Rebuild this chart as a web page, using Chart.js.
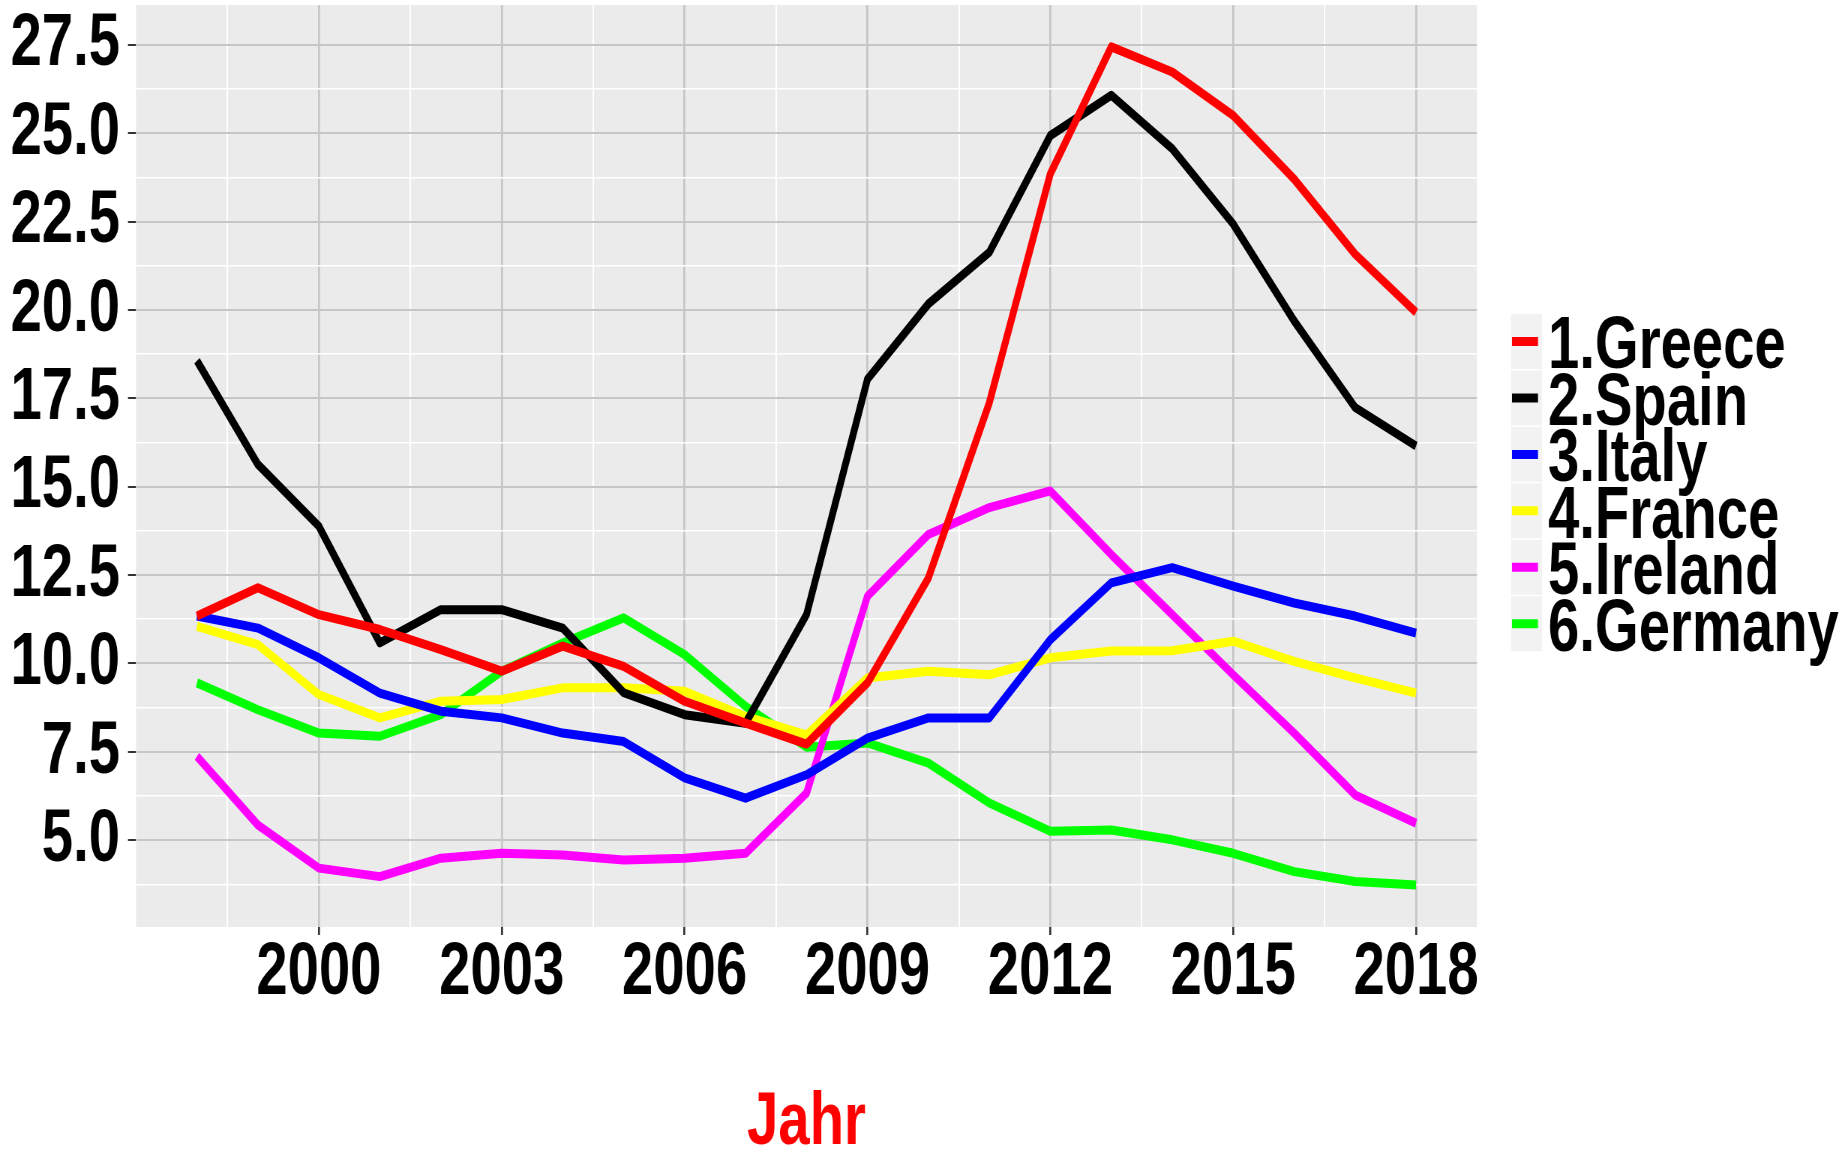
<!DOCTYPE html>
<html><head><meta charset="utf-8">
<script src="https://cdn.jsdelivr.net/npm/chart.js@4/dist/chart.umd.min.js"></script>
<style>
html,body{margin:0;padding:0;background:#fff;overflow:hidden;width:1847px;height:1155px;}
#wrap{position:absolute;left:0;top:0;transform-origin:0 0;}
</style>
</head><body><div id="wrap"><canvas id="c"></canvas></div>
<script>
// ---- data ----
const years = [1998, 1999, 2000, 2001, 2002, 2003, 2004, 2005, 2006, 2007, 2008, 2009, 2010, 2011, 2012, 2013, 2014, 2015, 2016, 2017, 2018];
const seriesNames = ['1.Greece', '2.Spain', '3.Italy', '4.France', '5.Ireland', '6.Germany'];
const seriesColors = ['#ff0000', '#000000', '#0000ff', '#ffff00', '#ff00ff', '#00ff00'];
const greece  = [11.34, 12.14, 11.38, 10.96, 10.39, 9.78, 10.49, 9.92, 8.93, 8.31, 7.72, 9.45, 12.42, 17.38, 23.85, 27.44, 26.73, 25.50, 23.70, 21.58, 19.93];
const spain   = [18.56, 15.63, 13.88, 10.58, 11.52, 11.52, 11.00, 9.17, 8.55, 8.31, 11.38, 18.04, 20.17, 21.63, 24.93, 26.07, 24.56, 22.43, 19.69, 17.24, 16.15];
const italy   = [11.34, 11.00, 10.16, 9.16, 8.65, 8.46, 8.03, 7.79, 6.76, 6.19, 6.85, 7.89, 8.46, 8.46, 10.67, 12.28, 12.71, 12.19, 11.71, 11.34, 10.86];
const france  = [11.05, 10.53, 9.12, 8.46, 8.93, 8.98, 9.31, 9.31, 9.21, 8.50, 7.98, 9.59, 9.78, 9.68, 10.16, 10.35, 10.36, 10.63, 10.06, 9.59, 9.16];
const ireland = [7.37, 5.43, 4.21, 3.97, 4.49, 4.63, 4.58, 4.44, 4.49, 4.63, 6.33, 11.90, 13.65, 14.41, 14.88, 13.08, 11.38, 9.68, 8.03, 6.28, 5.48];
const germany = [9.45, 8.69, 8.03, 7.94, 8.55, 9.78, 10.58, 11.29, 10.25, 8.79, 7.63, 7.75, 7.18, 6.05, 5.25, 5.29, 5.01, 4.63, 4.11, 3.83, 3.73];
const xTickValues = [2000, 2003, 2006, 2009, 2012, 2015, 2018];
const yTickValues = [5.0, 7.5, 10.0, 12.5, 15.0, 17.5, 20.0, 22.5, 25.0, 27.5];
const xTitle = 'Jahr';

const seriesValues = [greece, spain, italy, france, ireland, germany];

// ---- layout / style ----
// The reference uses a narrow bold face; emulate it by drawing on a wider
// canvas and compressing it horizontally.
const SX = 0.75;
const VW = 1847, H = 1155;
const W = Math.round(VW / SX);
const FONT = '"Liberation Sans", Arial, sans-serif';
const PANEL = {left: 136 / SX, top: 5, right: 1477 / SX, bottom: 927};

const cv = document.getElementById('c');
cv.width = W; cv.height = H;
cv.style.width = W + 'px'; cv.style.height = H + 'px';
document.getElementById('wrap').style.transform = 'scaleX(' + SX + ')';

// ggplot-like 5% expansion
const allVals = [].concat(...seriesValues);
const yLo = Math.min(...allVals), yHi = Math.max(...allVals);
const yPad = (yHi - yLo) * 0.05;
const xLo = years[0], xHi = years[years.length - 1];
const xPad = (xHi - xLo) * 0.05;
const xMin = xLo - xPad, xMax = xHi + xPad, yMin = yLo - yPad, yMax = yHi + yPad;

function withMinors(majors, lo, hi) {
  const step = majors[1] - majors[0];
  const out = [];
  for (let v = majors[0] - step / 2; v <= hi + 1e-9; v += step) {
    if (v >= lo) out.push(+v.toFixed(4));
  }
  majors.forEach(v => { if (v >= lo && v <= hi) out.push(v); });
  return out.sort((a, b) => a - b);
}
const xAll = withMinors(xTickValues, xMin, xMax);
const yAll = withMinors(yTickValues, yMin, yMax);
const findMajor = (list, v) => list.find(t => Math.abs(t - v) < 1e-6);
const isMajor = (list, c) => !!(c.tick && findMajor(list, c.tick.value) !== undefined);

const panelBg = {
  id: 'panelBg',
  beforeDraw(chart) {
    const {ctx, chartArea: a} = chart;
    ctx.save();
    ctx.fillStyle = '#ebebeb';
    ctx.fillRect(a.left, a.top, a.right - a.left, a.bottom - a.top);
    ctx.restore();
  }
};

const sideLegend = {
  id: 'sideLegend',
  afterDraw(chart) {
    const ctx = chart.ctx;
    const step = 56.45, top0 = 314, keyX = 1511 / SX, keyW = 31 / SX;
    ctx.save();
    chart.data.datasets.forEach((d, i) => {
      const y0 = top0 + i * step;
      const h = step - 1.5;
      ctx.fillStyle = '#f2f2f2';
      ctx.fillRect(keyX, y0, keyW, h);
      const cy = y0 + h / 2;
      ctx.strokeStyle = d.borderColor;
      ctx.lineWidth = 9;
      ctx.lineCap = 'butt';
      ctx.beginPath();
      ctx.moveTo(1512 / SX, cy);
      ctx.lineTo(1538 / SX, cy);
      ctx.stroke();
      ctx.fillStyle = '#000000';
      ctx.font = 'bold 75px ' + FONT;
      ctx.textBaseline = 'alphabetic';
      ctx.textAlign = 'left';
      ctx.fillText(d.label, 1548 / SX, cy + 27);
    });
    ctx.restore();
  }
};

const datasets = seriesNames.map((name, i) => ({
  label: name,
  data: years.map((y, j) => ({x: y, y: seriesValues[i][j]})),
  borderColor: seriesColors[i],
  backgroundColor: seriesColors[i],
  borderWidth: 9,
  pointRadius: 0,
  tension: 0,
  fill: false,
  borderJoinStyle: 'round',
  borderCapStyle: 'butt'
}));

new Chart(cv, {
  type: 'line',
  data: {datasets},
  options: {
    responsive: false,
    animation: false,
    devicePixelRatio: 1,
    layout: {padding: {left: 0, top: PANEL.top, right: W - PANEL.right, bottom: 0}},
    plugins: {legend: {display: false}, tooltip: {enabled: false}},
    scales: {
      x: {
        type: 'linear', min: xMin, max: xMax,
        afterBuildTicks: s => { s.ticks = xAll.map(v => ({value: v})); },
        afterFit: s => { s.height = H - PANEL.bottom; s.paddingLeft = 0; s.paddingRight = 0; s.paddingTop = 0; s.paddingBottom = 0; },
        border: {display: false},
        grid: {
          color: c => isMajor(xTickValues, c) ? '#c6c6c6' : '#ffffff',
          lineWidth: c => isMajor(xTickValues, c) ? 2 / SX : 1.5 / SX,
          tickColor: c => isMajor(xTickValues, c) ? '#333333' : 'rgba(0,0,0,0)',
          tickLength: 8, tickWidth: 2 / SX, drawTicks: true
        },
        ticks: {
          autoSkip: false, maxRotation: 0, minRotation: 0, padding: 1, color: '#000000',
          font: {family: FONT, weight: 'bold', size: 75, lineHeight: 1},
          callback: v => { const m = findMajor(xTickValues, v); return m === undefined ? '' : String(m); }
        },
        title: {
          display: true, text: xTitle, color: '#ff0000',
          font: {family: FONT, weight: 'bold', size: 75, lineHeight: 0.84},
          padding: {top: 0, bottom: 0}
        }
      },
      y: {
        type: 'linear', min: yMin, max: yMax,
        afterBuildTicks: s => { s.ticks = yAll.map(v => ({value: v})); },
        afterFit: s => { s.width = PANEL.left; s.paddingLeft = 0; s.paddingRight = 0; s.paddingTop = 0; s.paddingBottom = 0; },
        border: {display: false},
        grid: {
          color: c => isMajor(yTickValues, c) ? '#c6c6c6' : '#ffffff',
          lineWidth: c => isMajor(yTickValues, c) ? 2 : 1.5,
          tickColor: c => isMajor(yTickValues, c) ? '#333333' : 'rgba(0,0,0,0)',
          tickLength: 8 / SX, tickWidth: 2, drawTicks: true
        },
        ticks: {
          autoSkip: false, padding: 8 / SX, color: '#000000',
          font: {family: FONT, weight: 'bold', size: 75, lineHeight: 1},
          callback: v => { const m = findMajor(yTickValues, v); return m === undefined ? '' : m.toFixed(1); }
        }
      }
    }
  },
  plugins: [panelBg, sideLegend]
});
</script>
</body></html>
